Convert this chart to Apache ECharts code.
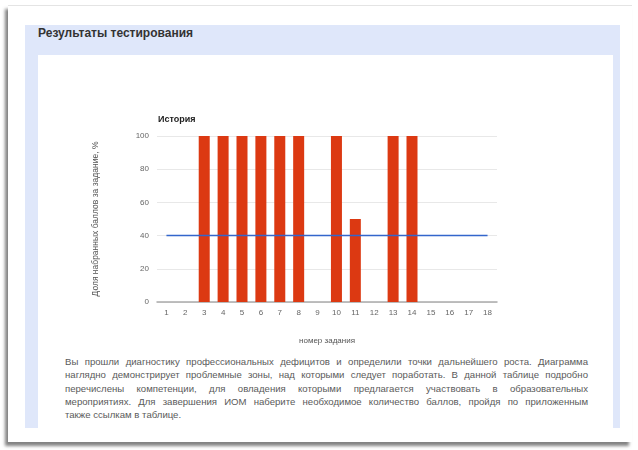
<!DOCTYPE html>
<html>
<head>
<meta charset="utf-8">
<script src="https://cdn.jsdelivr.net/npm/echarts@6/dist/echarts.min.js"></script>
<style>
html,body{margin:0;padding:0;width:638px;height:450px;background:#fff;overflow:hidden;font-family:"Liberation Sans",Arial,sans-serif;}
#card{position:absolute;left:8px;top:5px;width:624px;height:436px;background:#fff;border-top:1px solid #e4e4e4;box-shadow:-3px 4px 3px rgba(90,90,90,0.75);}
#panel{position:absolute;left:25px;top:25px;width:595px;height:403px;background:#dfe7fa;}
#head{position:absolute;left:38px;top:26px;height:28px;line-height:15px;font-size:12px;font-weight:bold;color:#333;}
#inner{position:absolute;left:38px;top:55px;width:575px;height:373px;background:#fff;}
#para{position:absolute;left:65px;top:355px;width:523px;font-size:9.6px;line-height:13.3px;color:#5a5a5a;}
#para .l{display:block;text-align:justify;text-align-last:justify;white-space:nowrap;}
#para .l.last{text-align-last:left;}
#chart{position:absolute;left:0;top:0;width:638px;height:450px;}
</style>
</head>
<body>
<div id="card"></div>
<div id="panel"></div>
<div id="head">Результаты тестирования</div>
<div id="inner"></div>
<div id="para"><span class="l">Вы прошли диагностику профессиональных дефицитов и определили точки дальнейшего роста. Диаграмма</span><span class="l">наглядно демонстрирует проблемные зоны, над которыми следует поработать. В данной таблице подробно</span><span class="l">перечислены компетенции, для овладения которыми предлагается участвовать в образовательных</span><span class="l">мероприятиях. Для завершения ИОМ наберите необходимое количество баллов, пройдя по приложенным</span><span class="l last">также ссылкам в таблице.</span></div>
<div id="chart"></div>
<script>
var chartTitle = 'История';
var xAxisName = 'номер задания';
var yAxisName = 'Доля набранных баллов за задание, %';
var categories = ['1','2','3','4','5','6','7','8','9','10','11','12','13','14','15','16','17','18'];
var scores = [0,0,100,100,100,100,100,100,0,100,50,0,100,100,0,0,0,0];
var threshold = [40,40,40,40,40,40,40,40,40,40,40,40,40,40,40,40,40,40];
var yTicks = [0,20,40,60,80,100];

var chart = echarts.init(document.getElementById('chart'), null, {renderer:'canvas'});
chart.setOption({
  backgroundColor: 'transparent',
  animation: false,
  textStyle: {fontFamily: 'Liberation Sans, Arial, sans-serif'},
  title: {
    text: chartTitle, left: 153, top: 110,
    textStyle: {fontSize: 9, fontWeight: 'bold', color: '#222'}
  },
  grid: {left: 157, right: 141, top: 136, bottom: 148},
  xAxis: {
    type: 'category', data: categories,
    name: xAxisName, nameLocation: 'middle', nameGap: 35,
    nameTextStyle: {fontSize: 8, color: '#555'},
    axisLine: {show: true, lineStyle: {color: '#aaa', width: 1.5}},
    axisTick: {show: false},
    axisLabel: {fontSize: 8, color: '#666', margin: 7}
  },
  yAxis: {
    type: 'value', min: yTicks[0], max: yTicks[yTicks.length-1], interval: 20,
    name: yAxisName, nameLocation: 'middle', nameGap: 57, nameRotate: 90,
    nameTextStyle: {fontSize: 8.5, color: '#555'},
    axisLine: {show: false}, axisTick: {show: false},
    axisLabel: {fontSize: 8, color: '#666', margin: 8},
    splitLine: {lineStyle: {color: '#e8e8e8'}}
  },
  series: [
    {type: 'bar', data: scores, barWidth: 11, itemStyle: {color: '#dc3912'}},
    {type: 'line', data: threshold, symbol: 'none', lineStyle: {color: '#3366cc', width: 1.5}, itemStyle: {color: '#3366cc'}}
  ]
});
</script>
</body>
</html>
